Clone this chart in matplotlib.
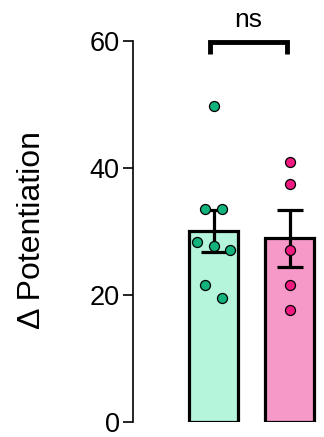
import numpy as np
import matplotlib
matplotlib.use("Agg")
import matplotlib.pyplot as plt

plt.rcParams["font.family"] = ["Liberation Sans", "DejaVu Sans"]

# Data
groups = ["A", "B"]
green_vals = [49.7, 33.6, 33.6, 28.3, 27.8, 27.1, 21.6, 19.5]
pink_vals = [41.0, 37.5, 27.1, 21.6, 17.6]
green_jitter = [0.0, -0.11, 0.11, -0.22, 0.0, 0.22, -0.11, 0.11]
pink_jitter = [0.0, 0.0, 0.0, 0.0, 0.0]
sig_label = "ns"

fill_colors = ["#b5f5dc", "#f799c8"]
dot_colors = ["#12b27c", "#f01a80"]

fig = plt.figure(figsize=(3.24, 4.37), dpi=100)
ax = fig.add_axes([0.41, 0.034, 0.59, 0.872])

all_vals = [green_vals, pink_vals]
all_jit = [green_jitter, pink_jitter]
means = [np.mean(v) for v in all_vals]
sems = [np.std(v, ddof=1) / np.sqrt(len(v)) for v in all_vals]
xs = np.arange(len(groups))

ax.bar(xs, means, width=0.645, color=fill_colors, edgecolor="black",
       linewidth=2.3, zorder=1)
ax.errorbar(xs, means, yerr=sems, fmt="none", ecolor="black",
            elinewidth=2.3, capsize=9.5, capthick=2.3, zorder=3)
for i in range(len(groups)):
    ax.scatter(xs[i] + np.array(all_jit[i]), all_vals[i], s=52,
               color=dot_colors[i], edgecolor="black", linewidth=0.9,
               zorder=4, clip_on=False)

# significance bracket
ax.plot([-0.05, -0.05, 0.97, 0.97], [58.0, 59.8, 59.8, 58.0],
        color="black", linewidth=3.5, clip_on=False,
        solid_capstyle="butt", solid_joinstyle="miter")
ax.text(0.46, 61.5, sig_label, ha="center", va="bottom", fontsize=19,
        clip_on=False)

ax.set_ylim(0, 60)
ax.set_xlim(-1.06, 1.45)
ax.set_yticks([0, 20, 40, 60])
ax.set_xticks([])
ax.tick_params(axis="y", length=7.5, width=1.2, labelsize=19.5, pad=2)
for s in ["top", "right", "bottom"]:
    ax.spines[s].set_visible(False)
ax.spines["left"].set_linewidth(1.2)
ax.set_ylabel("Δ Potentiation", fontsize=23)
ax.yaxis.set_label_coords(-0.45, 0.505)

fig.savefig("out.png", dpi=100)
